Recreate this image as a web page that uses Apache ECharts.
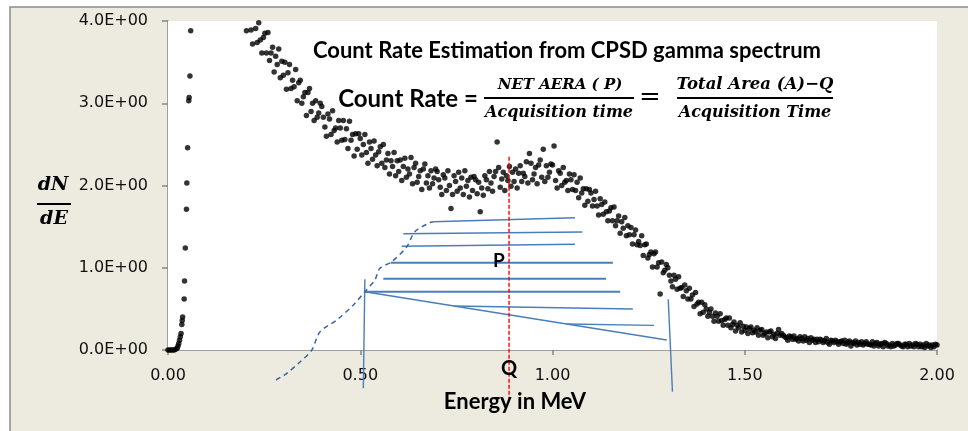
<!DOCTYPE html>
<html><head><meta charset="utf-8">
<script src="https://cdn.jsdelivr.net/npm/echarts@6/dist/echarts.min.js"></script>
<style>html,body{margin:0;padding:0;background:#fff}#c{width:968px;height:431px}</style>
</head><body><div id="c"></div>
<script>
// ---- tick labels ----
const xTicks = [0, 0.5, 1.0, 1.5, 2.0];
const yTicks = [0, 1, 2, 3, 4];

// ---- low-energy edge (energy MeV, dN/dE) ----
const spikeEnergy = [0.000,0.004,0.008,0.012,0.016,0.020,0.024,0.026,0.028,0.030,0.032,0.034,0.036,0.037,0.038,0.042,0.043,0.045,0.048,0.049,0.051,0.054,0.055,0.057,0.059];
const spikeCounts = [0.00,0.00,0.00,0.00,0.00,0.01,0.02,0.05,0.08,0.12,0.16,0.20,0.31,0.36,0.40,0.62,0.84,1.24,1.71,2.03,2.46,3.03,3.07,3.33,3.88];

// ---- main spectrum: channel calibration start / width (MeV) ----
const specStart = 0.200, specStep = 0.004;
const specCounts = [
 4.13,3.88,4.02,4.15,3.89,3.72,4.01,3.91,3.74,3.98,3.77,3.61,3.80,3.85,3.61,3.86,3.52,3.61,3.68,3.38,3.57,3.47,3.66,3.31,3.51,
 3.34,3.50,3.17,3.37,3.47,3.18,3.28,3.20,3.41,3.03,3.25,3.28,3.00,3.08,3.13,2.85,3.13,3.18,2.90,3.00,2.79,3.03,2.83,2.88,3.00,
 2.96,2.83,2.71,2.60,2.87,2.81,2.62,2.91,2.67,2.70,2.53,2.79,2.70,2.55,2.79,2.56,2.69,2.45,2.78,2.55,2.62,2.36,2.63,2.44,2.63,
 2.57,2.37,2.50,2.62,2.40,2.27,2.53,2.45,2.32,2.54,2.37,2.24,2.41,2.47,2.27,2.50,2.22,2.31,2.39,2.14,2.30,2.23,2.40,2.12,2.30,
 2.17,2.31,2.06,2.23,2.33,2.10,2.20,2.14,2.34,2.02,2.22,2.27,2.04,2.11,2.18,1.95,2.20,2.26,2.03,2.12,1.97,2.18,2.02,2.09,2.20,
 2.17,2.07,1.98,1.89,2.13,2.09,1.94,2.18,2.00,1.72,1.89,2.12,2.05,1.93,2.16,1.97,2.09,1.89,2.18,1.99,2.06,1.86,2.10,1.94,2.11,
 2.07,1.90,2.04,1.68,1.97,1.88,2.12,2.07,1.96,2.17,2.03,1.93,2.11,2.17,2.53,2.22,1.98,2.08,2.16,1.94,2.12,2.06,2.23,1.99,2.16,
 2.05,2.20,1.97,2.15,2.24,2.05,2.15,2.11,2.29,2.03,2.39,2.27,2.07,2.14,2.22,2.02,2.25,2.31,2.10,2.44,2.05,2.24,2.10,2.16,2.26,
 2.25,2.48,2.06,1.97,2.18,2.15,2.00,2.22,2.04,2.06,1.94,2.14,2.07,1.95,2.13,1.94,2.04,1.85,2.09,1.91,1.96,1.76,1.96,1.81,1.95,
 1.91,1.75,1.83,1.93,1.75,1.64,1.84,1.77,1.65,1.80,1.68,1.57,1.69,1.73,1.57,1.74,1.51,1.57,1.63,1.42,1.56,1.48,1.61,1.39,1.51,
 1.40,1.49,1.29,1.40,1.46,1.28,1.32,1.27,1.39,1.15,1.28,1.29,1.12,1.16,1.19,1.01,1.17,1.19,1.01,1.06,0.68,1.07,0.94,0.97,1.04,
 1.00,0.91,0.84,0.77,0.91,0.86,0.74,0.89,0.75,0.76,0.65,0.79,0.72,0.62,0.75,0.62,0.67,0.53,0.70,0.56,0.58,0.44,0.58,0.46,0.55,
 0.50,0.41,0.46,0.50,0.41,0.35,0.45,0.41,0.35,0.44,0.36,0.30,0.37,0.39,0.30,0.39,0.27,0.31,0.34,0.23,0.30,0.27,0.33,0.22,0.29,
 0.24,0.28,0.20,0.26,0.28,0.21,0.24,0.22,0.27,0.18,0.24,0.25,0.18,0.20,0.22,0.15,0.22,0.23,0.16,0.19,0.14,0.20,0.25,0.18,0.20,
 0.18,0.16,0.15,0.12,0.17,0.16,0.13,0.17,0.13,0.14,0.11,0.16,0.14,0.11,0.16,0.12,0.14,0.09,0.15,0.12,0.13,0.09,0.13,0.10,0.13,
 0.12,0.09,0.11,0.14,0.09,0.07,0.12,0.11,0.09,0.12,0.10,0.07,0.10,0.11,0.08,0.12,0.07,0.09,0.11,0.05,0.09,0.08,0.11,0.06,0.09,
 0.07,0.10,0.06,0.08,0.10,0.07,0.07,0.06,0.10,0.05,0.08,0.09,0.05,0.07,0.08,0.04,0.09,0.08,0.05,0.06,0.04,0.08,0.05,0.06,0.08,
 0.08,0.06,0.05,0.04,0.07,0.07,0.04,0.08,0.05,0.06,0.04,0.08,0.07,0.04,0.07,0.04,0.06,0.03,0.08,0.05,0.06,0.03,0.06,0.04,0.07,
 0.06
];

// ---- annotation sketch (in axis units: MeV, dN/dE) ----
const hatchLines = [
 [[0.690,1.560],[1.0585,1.608]],
 [[0.612,1.414],[1.0775,1.435]],
 [[0.608,1.261],[1.0585,1.285]],
 [[0.579,1.061],[1.157,1.061]],
 [[0.560,0.867],[1.139,0.867]],
 [[0.512,0.709],[1.176,0.709]],
 [[0.744,0.535],[1.209,0.498]],
 [[1.037,0.316],[1.264,0.300]],
 [[0.512,0.709],[1.297,0.122]],
 [[0.512,0.860],[0.508,-0.466]],
 [[1.301,0.616],[1.312,-0.507]]
];
const thickHatch = [3,4,5];
const dashedCurve = [[0.281,-0.365],[0.309,-0.283],[0.343,-0.146],[0.374,0.0],[0.395,0.219],[0.439,0.365],[0.482,0.547],[0.512,0.709],[0.538,0.851],[0.551,0.993],[0.582,1.074],[0.621,1.256],[0.642,1.438],[0.681,1.548],[0.690,1.560]];
const qLine = [[0.887,2.35],[0.887,-0.61]];

const specData = specCounts.map((v,i)=>[specStart + i*specStep, v]);
const spikeData = spikeEnergy.map((e,i)=>[e, spikeCounts[i]]);

const series = [
 {type:'scatter', data: spikeData.concat(specData), symbolSize:5.5, itemStyle:{color:'#000'}, clip:true, z:3, silent:true}
];
hatchLines.forEach((seg,i)=>{
 series.push({type:'line', data:seg, symbol:'none', clip:false, silent:true, z:4,
   lineStyle:{color:'#4A7EBB', width: thickHatch.includes(i)?2:1.4}});
});
series.push({type:'line', data:dashedCurve, symbol:'none', smooth:0.3, clip:false, silent:true, z:4,
  lineStyle:{color:'#3B64A0', width:1.5, type:[5,4]}});
series.push({type:'line', data:qLine, symbol:'none', clip:false, silent:true, z:5,
  lineStyle:{color:'#FF0000', width:1.4, type:[4,2]}});

const chart = echarts.init(document.getElementById('c'), null, {renderer:'canvas'});
const serifBI = {fontFamily:'DejaVu Serif', fontWeight:'bold', fontStyle:'italic', fill:'#000'};
chart.setOption({
 animation:false,
 backgroundColor:'#fff',
 grid:{left:168, top:21, right:31, bottom:81, show:true, backgroundColor:'#fff', borderWidth:0, z:1},
 xAxis:{type:'value', min:xTicks[0], max:xTicks[xTicks.length-1], interval:0.5,
   axisLine:{lineStyle:{color:'#868686', width:1.5}}, axisTick:{show:true, length:5, lineStyle:{color:'#868686', width:1.5}},
   splitLine:{show:false},
   axisLabel:{margin:18, fontFamily:'DejaVu Sans', fontSize:16, color:'#111', formatter:v=>v.toFixed(2)}},
 yAxis:{type:'value', min:yTicks[0], max:yTicks[yTicks.length-1], interval:1,
   axisLine:{show:true, lineStyle:{color:'#868686', width:1.5}}, axisTick:{show:true, length:6, lineStyle:{color:'#868686', width:1.5}},
   splitLine:{show:false},
   axisLabel:{margin:20, fontFamily:'DejaVu Sans', fontSize:16, color:'#111', formatter:v=>v.toFixed(1)+'E+00'}},
 graphic:[
  {type:'rect', z:-10, shape:{x:10, y:7, width:1000, height:500}, style:{fill:'#EDEAE0', stroke:'#8C8C8C', lineWidth:1.5}},
  {type:'text', z:10, x:567, y:51, style:{text:'Count Rate Estimation from CPSD gamma spectrum', font:'bold 22px Lato', fill:'#000', textAlign:'center', textVerticalAlign:'middle'}},
  {type:'text', z:10, x:408, y:99, style:{text:'Count Rate =', font:'bold 24px Lato', fill:'#000', textAlign:'center', textVerticalAlign:'middle'}},
  {type:'text', z:10, x:560, y:85, style:Object.assign({text:'NET AERA ( P)', fontSize:15, textAlign:'center', textVerticalAlign:'middle'}, serifBI)},
  {type:'line', z:10, shape:{x1:484, y1:98, x2:634, y2:98}, style:{stroke:'#000', lineWidth:2}},
  {type:'text', z:10, x:559, y:113, style:Object.assign({text:'Acquisition time', fontSize:16, textAlign:'center', textVerticalAlign:'middle'}, serifBI)},
  {type:'text', z:10, x:650, y:98, style:{text:'=', font:'26px DejaVu Serif', fill:'#000', textAlign:'center', textVerticalAlign:'middle'}},
  {type:'text', z:10, x:755, y:85, style:Object.assign({text:'Total Area (A)\u2212Q', fontSize:16.5, textAlign:'center', textVerticalAlign:'middle'}, serifBI)},
  {type:'line', z:10, shape:{x1:677, y1:98, x2:833, y2:98}, style:{stroke:'#000', lineWidth:2}},
  {type:'text', z:10, x:755, y:113, style:Object.assign({text:'Acquisition Time', fontSize:16, textAlign:'center', textVerticalAlign:'middle'}, serifBI)},
  {type:'text', z:10, x:53, y:185, style:Object.assign({text:'dN', fontSize:19, textAlign:'center', textVerticalAlign:'middle'}, serifBI)},
  {type:'line', z:10, shape:{x1:37, y1:204, x2:71, y2:204}, style:{stroke:'#000', lineWidth:2}},
  {type:'text', z:10, x:54, y:219, style:Object.assign({text:'dE', fontSize:19, textAlign:'center', textVerticalAlign:'middle'}, serifBI)},
  {type:'text', z:10, x:499, y:261, style:{text:'P', font:'bold 19px Lato', fill:'#000', textAlign:'center', textVerticalAlign:'middle'}},
  {type:'text', z:10, x:509, y:369, style:{text:'Q', font:'bold 20px Lato', fill:'#000', textAlign:'center', textVerticalAlign:'middle'}},
  {type:'text', z:10, x:515, y:402, style:{text:'Energy in MeV', font:'bold 22px Lato', fill:'#000', textAlign:'center', textVerticalAlign:'middle'}}
 ],
 series: series
});
</script></body></html>
